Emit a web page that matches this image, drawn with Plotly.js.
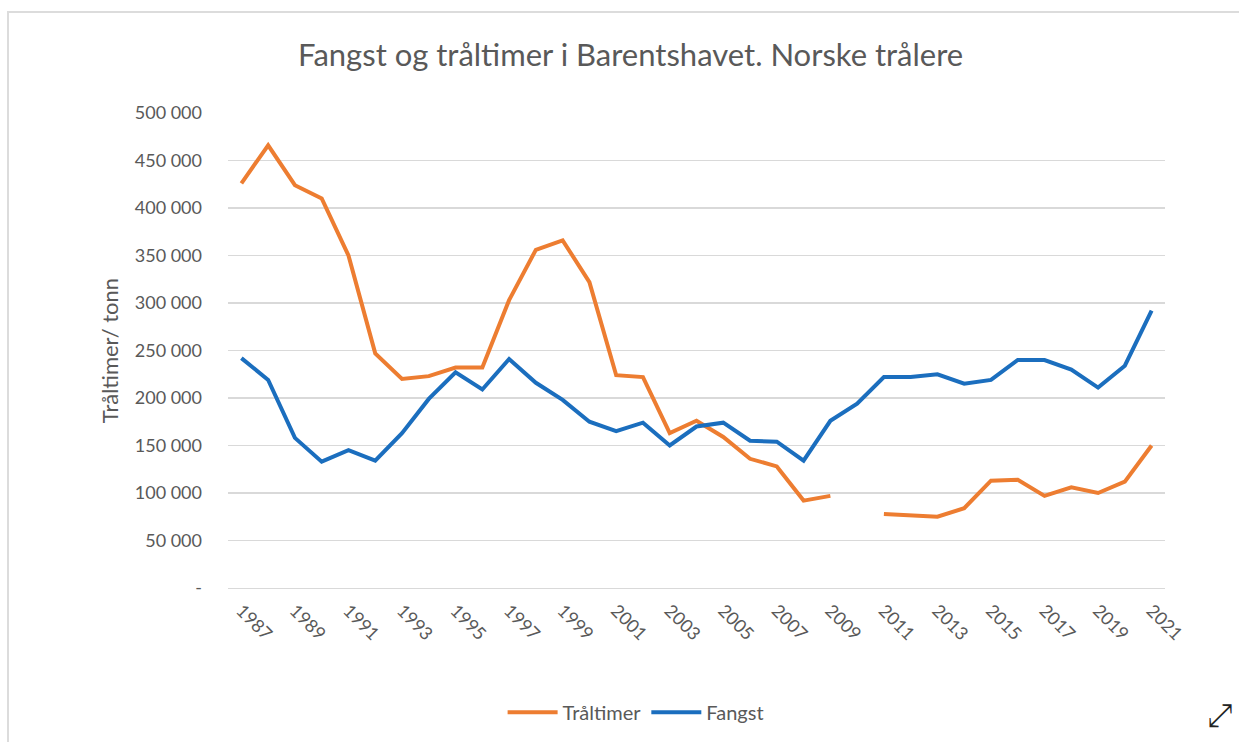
<!DOCTYPE html>
<html>
<head>
<meta charset="utf-8">
<script src="https://cdn.plot.ly/plotly-3.0.1.min.js"></script>
<style>
  html, body { margin: 0; padding: 0; background: #fff; }
  #wrap { position: relative; width: 1239px; height: 742px; overflow: hidden; }
  #frame { position: absolute; left: 7px; top: 11px; width: 1300px; height: 800px;
           border-top: 2px solid #dcdcdc; border-left: 2px solid #dcdcdc; pointer-events: none; }
  #chart { position: absolute; left: 0; top: 0; width: 1239px; height: 742px; }
</style>
</head>
<body>
<div id="wrap">
  <div id="chart"></div>
  <div id="frame"></div>
</div>
<script>
const years = [1987,1988,1989,1990,1991,1992,1993,1994,1995,1996,1997,1998,1999,2000,
               2001,2002,2003,2004,2005,2006,2007,2008,2009,2010,2011,2012,2013,2014,
               2015,2016,2017,2018,2019,2020,2021];
const traltimer = [426000,466000,424000,410000,350000,247000,220000,223000,232000,232000,
                   303000,356000,366000,322000,224000,222000,163000,176000,159000,136000,
                   128000,92000,97000,null,78000,76000,75000,84000,113000,114000,97000,
                   106000,100000,112000,150000];
const fangst = [242000,219000,158000,133000,145000,134000,163000,199000,227000,209000,
                241000,216000,198000,175000,165000,174000,150000,170000,174000,155000,
                154000,134000,176000,194000,222000,222000,225000,215000,219000,240000,
                240000,230000,211000,234000,292000];
const xTickVals = [1987,1989,1991,1993,1995,1997,1999,2001,2003,2005,2007,2009,2011,
                   2013,2015,2017,2019,2021];
const yTickVals = [0,50000,100000,150000,200000,250000,300000,350000,400000,450000,500000];
const yTickText = ["-","50 000","100 000","150 000","200 000","250 000","300 000",
                   "350 000","400 000","450 000","500 000"];
const titleText = "Fangst og tråltimer i Barentshavet. Norske trålere";
const yTitleText = "Tråltimer/ tonn";
const seriesNames = ["Tråltimer","Fangst"];

const FONT = "Lato, 'Open Sans', sans-serif";
const GREY = "#595959";

const traces = [
  { x: years, y: traltimer, name: seriesNames[0], type: "scatter", mode: "lines",
    line: { color: "#ED7D31", width: 4 }, connectgaps: false },
  { x: years, y: fangst, name: seriesNames[1], type: "scatter", mode: "lines",
    line: { color: "#1B6EBE", width: 4 } }
];

const layout = {
  width: 1239, height: 742,
  paper_bgcolor: "rgba(0,0,0,0)", plot_bgcolor: "rgba(0,0,0,0)",
  margin: { l: 228, r: 74, t: 113, b: 154 },
  font: { family: FONT, color: GREY },
  title: { text: titleText, font: { family: FONT, size: 31, color: GREY },
           xref: "container", yref: "container", x: 0.509, y: 0.926,
           xanchor: "center", yanchor: "middle" },
  xaxis: {
    range: [1986.5, 2021.5], tickmode: "array", tickvals: xTickVals,
    tickangle: 45, tickfont: { family: FONT, size: 18, color: GREY },
    ticklabelstandoff: 4,
    showgrid: false, zeroline: false, showline: true, linecolor: "#d9d9d9", linewidth: 1,
    ticks: "", fixedrange: true
  },
  yaxis: {
    range: [0, 500000], tickmode: "array", tickvals: yTickVals, ticktext: yTickText,
    tickfont: { family: FONT, size: 18, color: GREY },
    showgrid: true, gridcolor: "#d9d9d9", gridwidth: 1.5, zeroline: false, showline: false,
    ticks: "", ticklabelstandoff: 25,
    title: { text: yTitleText, font: { family: FONT, size: 22, color: GREY }, standoff: 10 },
    fixedrange: true
  },
  showlegend: true,
  legend: { orientation: "h", xref: "container", yref: "container", x: 0.513, y: 0.04,
            xanchor: "center", yanchor: "middle",
            font: { family: FONT, size: 20, color: GREY }, itemwidth: 50 },
  annotations: [
    { text: "⤢", xref: "paper", yref: "paper", x: 1.0587, y: -0.267,
      xanchor: "center", yanchor: "middle", showarrow: false,
      font: { family: "DejaVu Sans", size: 32, color: "#222" } }
  ]
};

Plotly.newPlot("chart", traces, layout, { displayModeBar: false, staticPlot: true });
</script>
</body>
</html>
